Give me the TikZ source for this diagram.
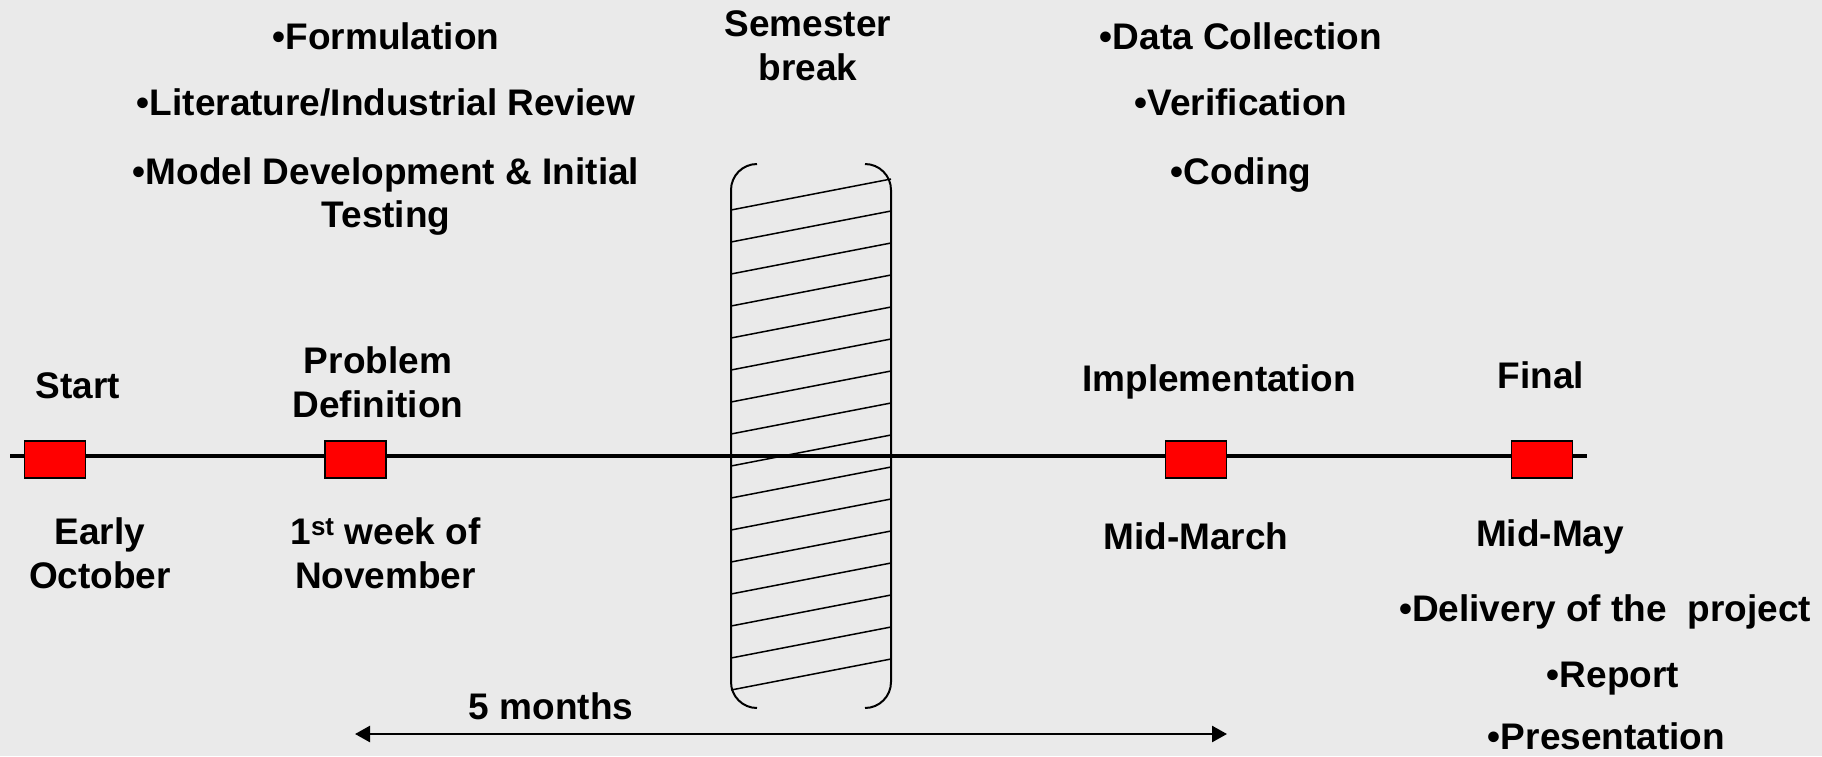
\documentclass[tikz,border=0pt]{standalone}
\usepackage{fontspec}
\setmainfont{Liberation Sans}
\usetikzlibrary{arrows.meta}
\definecolor{bgc}{RGB}{234,234,234}
\definecolor{mred}{RGB}{255,0,0}
\begin{document}
\begin{tikzpicture}[x=1pt,y=-1pt,
  lbl/.style={font=\fontsize{37}{44}\selectfont\bfseries, inner sep=0pt, anchor=base},
  milestone/.style={draw=black, line width=1.5pt, fill=mred, minimum width=61pt, minimum height=37pt, inner sep=0pt},
  hatch/.style={line width=1.5pt},
  bracket/.style={line width=2pt, rounded corners=26pt},
  timeline/.style={line width=4.5pt},
  span/.style={line width=2.5pt, {Triangle[length=15pt,width=16pt]}-{Triangle[length=15pt,width=16pt]}}]
\useasboundingbox[fill=bgc] (0,0) rectangle (1822,756);

% timeline
\coordinate (tl0) at (10,456);
\coordinate (tl1) at (1587,456);
\draw[timeline] (tl0) -- (tl1);

% semester break hatched box
\foreach \i in {0,...,15} {
  \draw[hatch] (731,{210+32*\i}) -- (891,{179+32*\i});
}
\draw[bracket] (757,164) -- (731,164) -- (731,708) -- (757,708);
\draw[bracket] (865,164) -- (891,164) -- (891,708) -- (865,708);

% milestones
\node[milestone] (m1) at (55,459.5) {};
\node[milestone] (m2) at (355.5,459.5) {};
\node[milestone] (m3) at (1196,459.5) {};
\node[milestone] (m4) at (1542,459.5) {};

% span arrow
\coordinate (a0) at (355,734);
\coordinate (a1) at (1227,734);
\draw[span] (a0) -- (a1);
\node[lbl] (months) at (551,719) {5 months};

% top-left tasks
\node[lbl] (form) at (386,49) {•Formulation};
\node[lbl] (lit) at (386,115.5) {•Literature/Industrial Review};
\node[lbl] (model1) at (386,184) {•Model Development \& Initial};
\node[lbl] (model2) at (386,227) {Testing};

% semester break
\node[lbl] (sem1) at (808,36.5) {Semester};
\node[lbl] (sem2) at (808,80.5) {break};

% top-right tasks
\node[lbl] (data) at (1241,49) {•Data Collection};
\node[lbl] (verif) at (1241,115.5) {•Verification};
\node[lbl] (coding) at (1241,184) {•Coding};

% milestone titles
\node[lbl] (start) at (78,398) {Start};
\node[lbl] (prob1) at (378,373.5) {Problem};
\node[lbl] (prob2) at (378,417.5) {Definition};
\node[lbl] (impl) at (1219,391) {Implementation};
\node[lbl] (final) at (1541,388.5) {Final};

% dates
\node[lbl] (early1) at (100,544.5) {Early};
\node[lbl] (early2) at (100,588.5) {October};
\node[lbl] (nov1) at (385.5,544.5) {1\textsuperscript{st} week of};
\node[lbl] (nov2) at (385.5,588.5) {November};
\node[lbl] (march) at (1196,549) {Mid-March};
\node[lbl] (may) at (1550,546) {Mid-May};

% final deliverables
\node[lbl] (deliv) at (1605,621) {•Delivery of the\ \ project};
\node[lbl] (report) at (1613,687) {•Report};
\node[lbl] (pres) at (1606.5,749) {•Presentation};
\end{tikzpicture}
\end{document}
